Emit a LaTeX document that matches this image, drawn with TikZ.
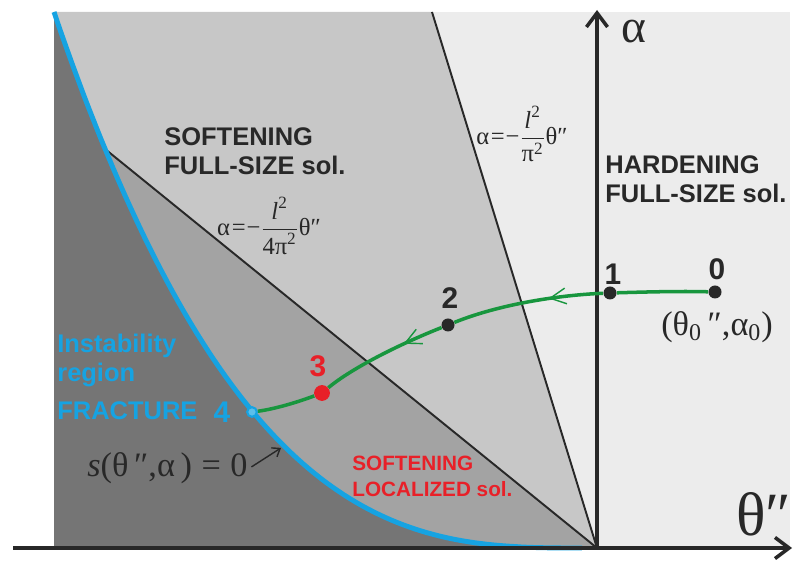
\RequirePackage{fix-cm}
\documentclass[tikz,border=0pt]{standalone}
\usepackage{amsmath}
\usepackage{fontspec}
\setmainfont{Liberation Serif}
\setsansfont{Liberation Sans}
\usetikzlibrary{arrows.meta,decorations.markings}

\definecolor{hardgray}{RGB}{236,236,236}
\definecolor{softgray}{RGB}{199,199,199}
\definecolor{locgray}{RGB}{163,163,163}
\definecolor{fracgray}{RGB}{117,117,117}
\definecolor{fracblue}{RGB}{22,163,226}
\definecolor{pathgreen}{RGB}{24,150,62}
\definecolor{softred}{RGB}{232,32,40}
\definecolor{inkgray}{RGB}{40,40,40}

\begin{document}
\begin{tikzpicture}[x=0.02cm, y=-0.02cm,
        axis/.style={line width=2pt, draw=inkgray, -{Straight Barb[length=8pt, width=12pt]}},
        border/.style={line width=1.1pt, draw=inkgray},
        fracture/.style={line width=2.8pt, draw=fracblue},
        track/.style={line width=2pt, draw=pathgreen},
        midarrow/.style={postaction={decorate}, decoration={markings,
            mark=at position #1 with {\arrow{Straight Barb[length=9pt, width=9pt, line width=0.8pt]}}}},
        pointer/.style={line width=0.8pt, draw=inkgray, -{Straight Barb[length=4pt, width=6pt]}},
        dot/.style={circle, fill=inkgray, inner sep=0pt, minimum size=7.4pt},
        num/.style={font=\sffamily\bfseries\fontsize{17}{20}\selectfont, inner sep=0pt, text=inkgray},
        region/.style={font=\sffamily\bfseries\fontsize{14.5}{16.8}\selectfont, align=left,
                      anchor=base west, inner sep=0pt, text=inkgray},
        formula/.style={font=\fontsize{14}{16}\selectfont, inner sep=0pt, text=inkgray}
    ]
        \useasboundingbox (0,0) rectangle (805,563);

        \coordinate (O) at (597,548);
        \coordinate (topcut) at (432,12);
        \coordinate (cusp) at (105,149);
        \coordinate (touch) at (284,446);
        \coordinate (xstart) at (13,548);
        \coordinate (xend) at (792,548);
        \coordinate (yend) at (597,10);

        % regions
        \fill[hardgray] (54,12) rectangle (790,548);
        \fill[softgray] (54,12) -- (topcut) -- (O) -- (54,548) -- cycle;
        \fill[locgray] (cusp) -- (O) -- (54,548) -- (54,149) -- cycle;
        \fill[fracgray] plot[domain=0:527, samples=90] ({54+\x},{548-536*((528-\x)/528)^2.9})
            -- (582,548) -- (54,548) -- cycle;

        \draw[border] (topcut) -- (O);
        \draw[border] (cusp) -- (O);
        \draw[fracture] plot[domain=0:527, samples=90] ({54+\x},{548-536*((528-\x)/528)^2.9})
            -- (582,548);

        \draw[axis] (xstart) -- (xend);
        \draw[axis] (O) -- (yend);
        \node[font=\fontsize{27}{30}\selectfont, text=inkgray] (alab) at (634,32) {α};
        \node[font=\fontsize{35}{40}\selectfont, text=inkgray] (tlab) at (764,514) {θ″};

        % labels (base = last line)
        \node[region] (softfull) at (164,175) {SOFTENING\\FULL-SIZE sol.};
        \node[region] (hardfull) at (605,203) {HARDENING\\FULL-SIZE sol.};
        \node[region, text=fracblue] (instab) at (57,382) {Instability\\region};
        \node[region, text=fracblue] (fract) at (57,420) {FRACTURE};
        \node[region, text=softred, font=\sffamily\bfseries\fontsize{11.8}{15.3}\selectfont]
            (softloc) at (352,497) {SOFTENING\\LOCALIZED sol.};

        \node[formula] (fullrule) at (522,134) {α\kern1pt=\kern0.5pt−$\dfrac{\textit{l}^{\text{2}}}{\text{π}^{\text{2}}}$θ″};
        \node[formula] (locrule) at (269,226) {α\kern1pt=\kern0.5pt−$\dfrac{\textit{l}^{\text{2}}}{\text{4π}^{\text{2}}}$θ″};
        \node[formula, font=\fontsize{19.5}{22}\selectfont, anchor=base west]
            (slabel) at (87,477) {\textit{s}(θ\,″,α\,)\;=\;0};
        \node[formula, font=\fontsize{19.5}{22}\selectfont]
            (start) at (717,327) {(θ\textsubscript{0}\,″,α\textsubscript{0})};

        % loading path
        \node[dot] (p0) at (715,292) {};
        \node[dot] (p1) at (610,293) {};
        \node[dot] (p2) at (448,325) {};
        \node[dot, fill=softred, minimum size=9pt] (p3) at (322,393) {};
        \node[dot, fill=fracblue!70!white, draw=fracblue, line width=1.2pt, minimum size=5.5pt] (p4) at (252,412) {};

        \draw[track] (p0) .. controls (680,291) and (645,292) .. (p1);
        \draw[track, midarrow=0.36] (p1) .. controls (560,295) and (500,304) .. (p2);
        \draw[track, midarrow=0.32] (p2) .. controls (400,344) and (352,368) .. (p3);
        \draw[track] (p3) .. controls (298,402) and (275,409) .. (p4);

        \node[num] (n0) at (717,269) {0};
        \node[num] (n1) at (613,274) {1};
        \node[num] (n2) at (450,298) {2};
        \node[num, text=softred] (n3) at (318,366) {3};
        \node[num, text=fracblue] (n4) at (222,412) {4};

        \draw[pointer, shorten >=2pt] ([xshift=2pt, yshift=1pt]slabel.east) -- (touch);
    \end{tikzpicture}
\end{document}
